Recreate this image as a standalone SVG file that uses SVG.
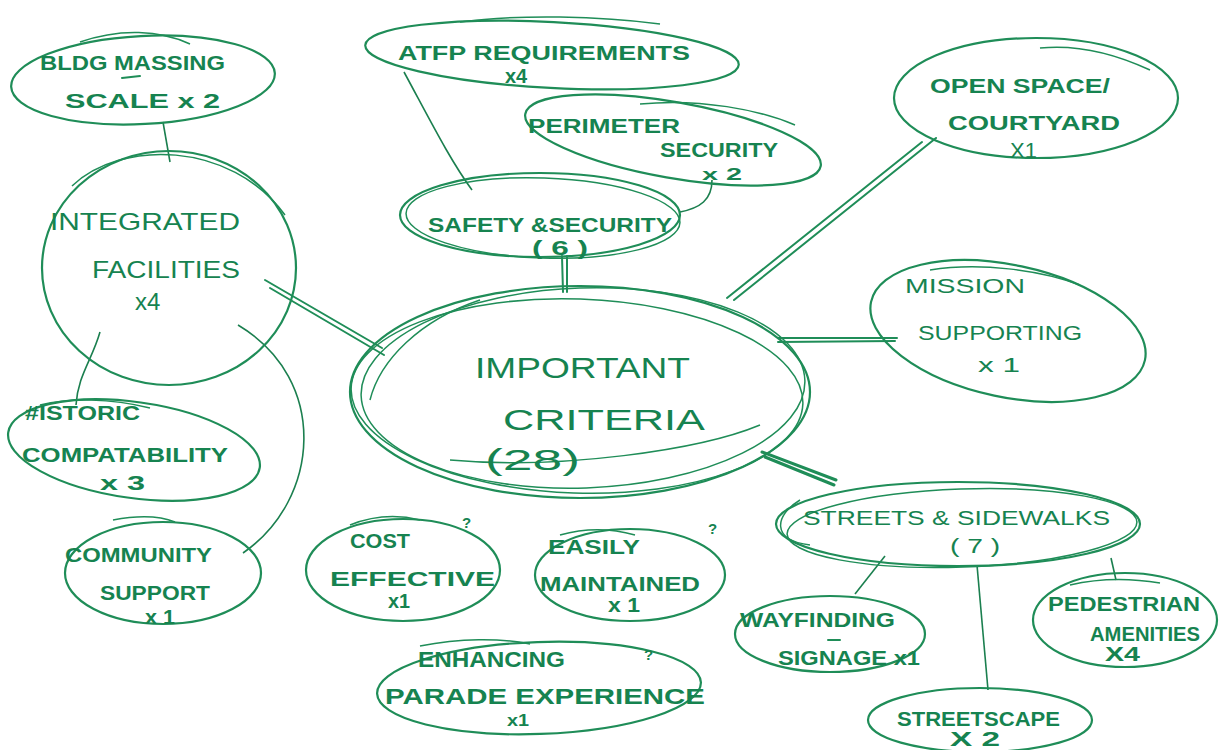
<svg xmlns="http://www.w3.org/2000/svg" width="1220" height="750" viewBox="0 0 1220 750">
<style>
.e{fill:none;stroke:#1f8d58;stroke-width:2.2}
.e2{fill:none;stroke:#1f8d58;stroke-width:1.5}
.c{fill:none;stroke:#1f8d58;stroke-width:2;stroke-linecap:round}
.ct{fill:none;stroke:#1b7f4f;stroke-width:1.6}
.t{fill:#168350;font-family:"Liberation Sans",Arial,sans-serif;font-weight:bold;font-size:20px}
.big{font-size:30px;font-weight:normal}
.q{font-size:15px}
</style>
<rect width="1220" height="750" fill="#ffffff"/>

<g id="connectors">
  <path class="ct" d="M163 122 L170 162"/>
  <path class="c" d="M265 280 L382 348 M270 288 L384 355"/>
  <path class="ct" d="M100 332 C92 360 78 375 76 405"/>
  <path class="ct" d="M238 325 C330 380 320 500 243 553"/>
  <path class="ct" d="M404 72 C430 120 450 160 472 190"/>
  <path class="ct" d="M712 180 C712 200 700 208 680 212"/>
  <path class="c" d="M562 256 L563 292 M567 256 L567 292"/>
  <path class="c" d="M727 298 L922 142 M734 300 L936 138"/>
  <path class="c" d="M778 338 L897 338 M778 342 L895 341"/>
  <path class="c" d="M762 452 L836 480 M765 457 L834 485" style="stroke-width:3"/>
  <path class="ct" d="M885 556 L855 594"/>
  <path class="ct" d="M977 565 L988 690"/>
  <path class="ct" d="M1111 558 L1116 580"/>
</g>

<g id="bldg-massing">
  <ellipse class="e" cx="143" cy="80" rx="132" ry="44" transform="rotate(-3 143 80)"/>
  <path class="e2" d="M80 42 C120 28 160 30 190 44"/>
  <text class="t" x="40" y="70" textLength="185" lengthAdjust="spacingAndGlyphs">BLDG MASSING</text>
  <path class="c" d="M122 78 L140 76"/>
  <text class="t" x="65" y="108" textLength="155" lengthAdjust="spacingAndGlyphs">SCALE  x 2</text>
</g>

<g id="integrated-facilities">
  <ellipse class="e" cx="169" cy="268" rx="127" ry="117"/>
  <path class="e2" d="M72 186 C120 140 230 140 285 215"/>
  <text class="t" x="50" y="230" style="font-size:24px;font-weight:normal" textLength="190" lengthAdjust="spacingAndGlyphs">INTEGRATED</text>
  <text class="t" x="92" y="278" style="font-size:24px;font-weight:normal" textLength="148" lengthAdjust="spacingAndGlyphs">FACILITIES</text>
  <text class="t" x="135" y="310" style="font-size:24px;font-weight:normal">x4</text>
</g>

<g id="historic-compatability">
  <ellipse class="e" cx="134" cy="450" rx="127" ry="48" transform="rotate(8 134 450)"/>
  <path class="e2" d="M40 405 C70 398 110 398 150 408"/>
  <text class="t" x="25" y="420" textLength="115" lengthAdjust="spacingAndGlyphs">#ISTORIC</text>
  <text class="t" x="22" y="462" textLength="206" lengthAdjust="spacingAndGlyphs">COMPATABILITY</text>
  <text class="t" x="100" y="490" textLength="45" lengthAdjust="spacingAndGlyphs">x 3</text>
</g>

<g id="community-support">
  <ellipse class="e" cx="163" cy="573" rx="98" ry="51"/>
  <path class="e2" d="M113 520 C140 515 160 516 175 522"/>
  <text class="t" x="65" y="562" textLength="147" lengthAdjust="spacingAndGlyphs">COMMUNITY</text>
  <text class="t" x="100" y="600" textLength="110" lengthAdjust="spacingAndGlyphs">SUPPORT</text>
  <text class="t" x="145" y="624" textLength="30" lengthAdjust="spacingAndGlyphs">x 1</text>
</g>

<g id="atfp-requirements">
  <ellipse class="e" cx="552" cy="55" rx="187" ry="33" transform="rotate(3 552 55)"/>
  <path class="e2" d="M460 22 C520 14 600 16 660 24"/>
  <text class="t" x="398" y="60" textLength="292" lengthAdjust="spacingAndGlyphs">ATFP REQUIREMENTS</text>
  <text class="t" x="505" y="83">x4</text>
</g>

<g id="perimeter-security">
  <ellipse class="e" cx="673" cy="140" rx="150" ry="38" transform="rotate(10 673 140)"/>
  <path class="e2" d="M640 104 C700 98 760 110 795 125"/>
  <text class="t" x="528" y="133" textLength="152" lengthAdjust="spacingAndGlyphs">PERIMETER</text>
  <text class="t" x="660" y="157" textLength="118" lengthAdjust="spacingAndGlyphs">SECURITY</text>
  <text class="t" x="702" y="180" style="font-size:16px" textLength="40" lengthAdjust="spacingAndGlyphs">x 2</text>
</g>

<g id="safety-security">
  <ellipse class="e" cx="540" cy="215" rx="140" ry="42"/>
  <ellipse class="e2" cx="543" cy="218" rx="137" ry="40" transform="rotate(2 543 218)"/>
  <text class="t" x="428" y="232" textLength="244" lengthAdjust="spacingAndGlyphs">SAFETY &amp;SECURITY</text>
  <text class="t" x="532" y="255" textLength="56" lengthAdjust="spacingAndGlyphs">( 6 )</text>
</g>

<g id="important-criteria">
  <ellipse class="e" cx="580" cy="392" rx="230" ry="106"/>
  <ellipse class="e2" cx="583" cy="388" rx="222" ry="100" transform="rotate(-2 583 388)"/>
  <ellipse class="e2" cx="577" cy="396" rx="226" ry="97" transform="rotate(2 577 396)"/>
  <path class="e2" d="M370 400 C380 360 420 320 480 300"/>
  <path class="e2" d="M450 460 C560 470 700 450 760 425"/>
  <text class="t big" x="475" y="378" textLength="215" lengthAdjust="spacingAndGlyphs">IMPORTANT</text>
  <text class="t big" x="503" y="430" textLength="202" lengthAdjust="spacingAndGlyphs">CRITERIA</text>
  <text class="t big" x="485" y="470" textLength="95" lengthAdjust="spacingAndGlyphs">(28)</text>
</g>

<g id="open-space-courtyard">
  <ellipse class="e" cx="1036" cy="98" rx="142" ry="60"/>
  <path class="e2" d="M1040 48 C1080 44 1120 56 1150 70"/>
  <text class="t" x="930" y="93" textLength="180" lengthAdjust="spacingAndGlyphs">OPEN SPACE/</text>
  <text class="t" x="948" y="130" textLength="172" lengthAdjust="spacingAndGlyphs">COURTYARD</text>
  <text class="t" x="1010" y="158" style="font-weight:normal;font-size:22px">X1</text>
</g>

<g id="mission-supporting">
  <ellipse class="e" cx="1008" cy="331" rx="140" ry="66" transform="rotate(12 1008 331)"/>
  <path class="e2" d="M930 270 C980 262 1040 270 1080 285"/>
  <text class="t" x="905" y="293" style="font-weight:normal" textLength="120" lengthAdjust="spacingAndGlyphs">MISSION</text>
  <text class="t" x="918" y="340" style="font-weight:normal" textLength="164" lengthAdjust="spacingAndGlyphs">SUPPORTING</text>
  <text class="t" x="978" y="372" style="font-weight:normal" textLength="42" lengthAdjust="spacingAndGlyphs">x 1</text>
</g>

<g id="streets-sidewalks">
  <ellipse class="e" cx="958" cy="524" rx="182" ry="42"/>
  <ellipse class="e2" cx="962" cy="528" rx="175" ry="39" transform="rotate(-2 962 528)"/>
  <path class="e2" d="M800 500 C775 515 770 540 810 545"/>
  <text class="t" x="803" y="525" style="font-weight:normal" textLength="307" lengthAdjust="spacingAndGlyphs">STREETS &amp; SIDEWALKS</text>
  <text class="t" x="950" y="553" style="font-weight:normal" textLength="50" lengthAdjust="spacingAndGlyphs">( 7 )</text>
</g>

<g id="wayfinding-signage">
  <ellipse class="e" cx="830" cy="634" rx="95" ry="38"/>
  <text class="t" x="740" y="627" textLength="155" lengthAdjust="spacingAndGlyphs">WAYFINDING</text>
  <path class="c" d="M828 640 L840 640"/>
  <text class="t" x="778" y="665" textLength="142" lengthAdjust="spacingAndGlyphs">SIGNAGE x1</text>
</g>

<g id="pedestrian-amenities">
  <ellipse class="e" cx="1125" cy="620" rx="92" ry="47"/>
  <path class="e2" d="M1070 585 C1100 578 1130 578 1160 583"/>
  <text class="t" x="1048" y="611" textLength="152" lengthAdjust="spacingAndGlyphs">PEDESTRIAN</text>
  <text class="t" x="1090" y="641" textLength="110" lengthAdjust="spacingAndGlyphs">AMENITIES</text>
  <text class="t" x="1105" y="661" textLength="35" lengthAdjust="spacingAndGlyphs">X4</text>
</g>

<g id="streetscape">
  <ellipse class="e" cx="980" cy="720" rx="112" ry="32"/>
  <text class="t" x="897" y="726" textLength="163" lengthAdjust="spacingAndGlyphs">STREETSCAPE</text>
  <text class="t" x="950" y="746" textLength="50" lengthAdjust="spacingAndGlyphs">X 2</text>
</g>

<g id="cost-effective">
  <ellipse class="e" cx="403" cy="570" rx="97" ry="51"/>
  <path class="e2" d="M350 525 C375 515 400 515 420 520"/>
  <text class="t" x="350" y="548" textLength="60" lengthAdjust="spacingAndGlyphs">COST</text>
  <text class="t" x="330" y="586" textLength="165" lengthAdjust="spacingAndGlyphs">EFFECTIVE</text>
  <text class="t" x="388" y="608" textLength="22" lengthAdjust="spacingAndGlyphs">x1</text>
  <text class="t q" x="462" y="528">?</text>
</g>

<g id="easily-maintained">
  <ellipse class="e" cx="630" cy="575" rx="95" ry="46"/>
  <path class="e2" d="M560 535 C585 528 610 528 635 535"/>
  <text class="t" x="548" y="554" textLength="92" lengthAdjust="spacingAndGlyphs">EASILY</text>
  <text class="t" x="540" y="591" textLength="160" lengthAdjust="spacingAndGlyphs">MAINTAINED</text>
  <text class="t" x="608" y="612" textLength="32" lengthAdjust="spacingAndGlyphs">x 1</text>
  <text class="t q" x="708" y="534">?</text>
</g>

<g id="enhancing-parade-experience">
  <ellipse class="e" cx="539" cy="688" rx="162" ry="46" transform="rotate(-2 539 688)"/>
  <path class="e2" d="M420 646 C460 638 500 638 530 644"/>
  <text class="t" x="418" y="667" style="font-size:22px" textLength="147" lengthAdjust="spacingAndGlyphs">ENHANCING</text>
  <text class="t" x="385" y="704" style="font-size:22px" textLength="320" lengthAdjust="spacingAndGlyphs">PARADE EXPERIENCE</text>
  <text class="t" x="507" y="726" style="font-size:16px" textLength="22" lengthAdjust="spacingAndGlyphs">x1</text>
  <text class="t q" x="644" y="660">?</text>
</g>
</svg>
